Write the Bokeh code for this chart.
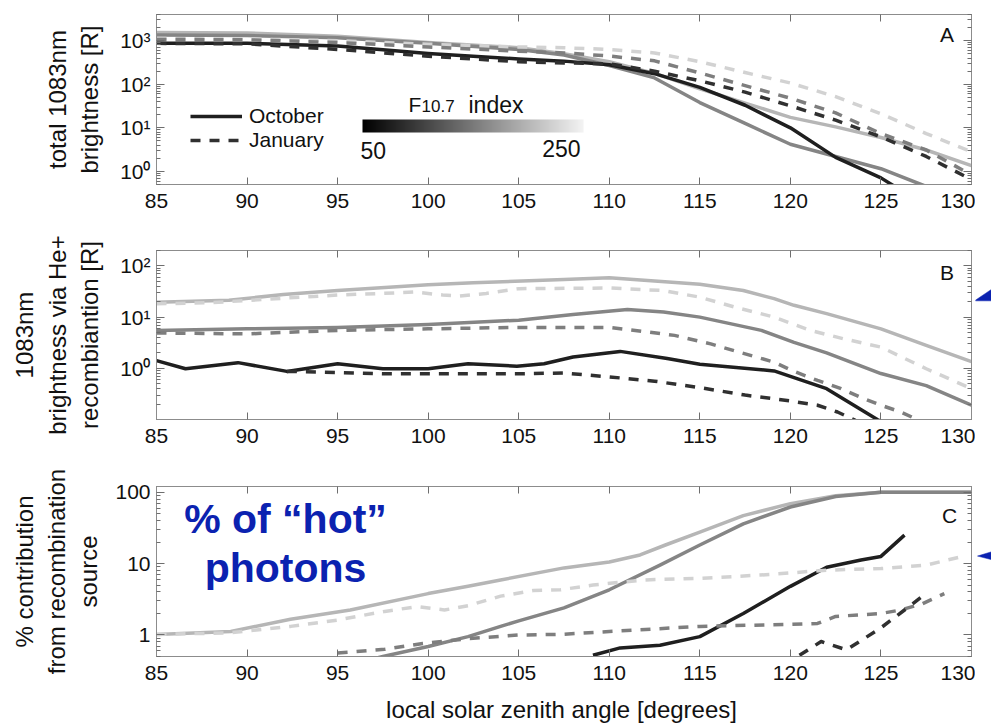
import math
from bokeh.plotting import figure
from bokeh.models import (Range1d, FixedTicker, LinearAxis, LogAxis, Label,
                          Legend, LegendItem, ColorBar, LinearColorMapper)
from bokeh.layouts import column, row
from bokeh.palettes import Greys256
from bokeh.embed import file_html
from bokeh.resources import INLINE

# ---------------- data ----------------
x_ticks = [85, 90, 95, 100, 105, 110, 115, 120, 125, 130]

# Panel A: total 1083nm brightness [R]
a_x = [85, 90, 95, 100, 105, 107.5, 110, 112.5, 115, 117.5, 120, 122.5, 125, 127.5, 130]
a_oct_f50 = [870, 870, 760, 510, 380, 340, 280, 175, 85, 33, 10, 2.1, 0.71, 0.16, 0.05]
a_oct_f150 = [1350, 1320, 1175, 870, 630, 470, 270, 140, 38, 12.6, 4.2, 2.2, 1.15, 0.45, 0.16]
a_oct_f250 = [1550, 1510, 1260, 910, 690, 500, 330, 178, 79, 37, 17.4, 10.5, 6.0, 3.1, 1.35]
a_jan_f50 = [870, 850, 630, 440, 330, 310, 295, 200, 120, 66, 32, 15, 6.2, 2.2, 0.65]
a_jan_f150 = [1070, 1050, 910, 720, 575, 525, 445, 345, 182, 93, 48, 22, 7.4, 3.1, 0.83]
a_jan_f250 = [1120, 1100, 1000, 830, 720, 690, 630, 525, 330, 186, 107, 52, 21, 7.4, 2.8]

# Panel B: 1083nm brightness via He+ recombination [R]
b_oct_f50_x = [85, 86.6, 89.5, 92.2, 95, 97.5, 100, 102.2, 104.9, 106.4, 108, 110.6, 113.2, 115, 119.1, 122, 124.8, 127.5, 130]
b_oct_f50 = [1.41, 0.98, 1.29, 0.87, 1.23, 0.98, 0.98, 1.23, 1.10, 1.23, 1.66, 2.14, 1.55, 1.20, 0.89, 0.40, 0.10, 0.03, 0.01]
b_jan_f50_x = [92.2, 95, 97.5, 100, 102.5, 105, 107.5, 110, 112.5, 115, 117.5, 120, 121.5, 122.6, 123.5, 126]
b_jan_f50 = [0.87, 0.83, 0.78, 0.78, 0.78, 0.78, 0.81, 0.68, 0.56, 0.42, 0.30, 0.23, 0.19, 0.14, 0.10, 0.03]
b_oct_f150_x = [85, 90, 95, 100, 105, 108, 111, 113, 115, 118.4, 120.2, 122, 125, 127.5, 130]
b_oct_f150 = [5.5, 5.9, 6.3, 7.2, 8.7, 11.2, 14.1, 12.6, 10.0, 5.5, 3.2, 2.0, 0.79, 0.46, 0.19]
b_jan_f150_x = [85, 90, 95, 100, 105, 110, 112, 113.6, 115.6, 116.9, 119.1, 120.2, 121.5, 122.8, 124, 125, 126.1, 127, 129]
b_jan_f150 = [4.9, 4.7, 5.5, 5.9, 6.3, 6.3, 5.2, 4.4, 3.0, 2.2, 1.32, 0.87, 0.58, 0.40, 0.26, 0.19, 0.14, 0.10, 0.05]
b_oct_f250_x = [85, 89, 92, 95, 100, 102.5, 107.5, 110, 115, 117.4, 119.1, 120.2, 122, 125, 127.5, 130]
b_oct_f250 = [19.5, 21.4, 27.5, 33, 43, 47, 54, 59, 44, 33, 23, 17, 11.7, 5.9, 2.8, 1.35]
b_jan_f250_x = [85, 88, 92, 95, 97.5, 99.2, 100.8, 101.7, 103.2, 105, 110, 113, 115, 116.9, 119.1, 121.1, 122.9, 125, 127.5, 130]
b_jan_f250 = [18.2, 19.1, 23.4, 27, 29, 31, 27, 25.7, 29, 36, 37, 33, 24.5, 15.8, 10.0, 5.5, 3.8, 2.6, 0.98, 0.40]

# Panel C: % contribution from recombination source
c_oct_f250_x = [85, 89.1, 92.4, 95.7, 100, 102.2, 104, 107.5, 110, 111.7, 113.1, 115, 117.4, 120, 122.5, 125, 130]
c_oct_f250 = [1.02, 1.12, 1.66, 2.24, 3.8, 4.8, 5.9, 8.7, 10.5, 13.2, 18.2, 27.5, 47, 69, 89, 100, 100]
c_oct_f150_x = [95, 97.5, 100, 102.2, 104, 105, 107.5, 110, 112.8, 115, 117.4, 120, 122.5, 125, 130]
c_oct_f150 = [0.35, 0.50, 0.69, 0.95, 1.32, 1.58, 2.4, 4.3, 9.5, 18.2, 36, 62, 87, 100, 100]
c_oct_f50_x = [109.1, 110.6, 112.8, 115, 117.4, 120, 122, 123.9, 125, 126.3]
c_oct_f50 = [0.52, 0.66, 0.72, 0.95, 2.0, 4.8, 8.9, 11.2, 12.6, 25]
c_jan_f250_x = [85, 89, 90.2, 92.4, 95, 97.6, 99.4, 100.9, 102.2, 104, 105.8, 107.3, 109.1, 111.9, 115, 118.3, 120, 122, 125, 127.5, 129.5]
c_jan_f250 = [1.02, 1.07, 1.15, 1.32, 1.62, 2.14, 2.5, 2.24, 2.57, 3.5, 4.2, 4.3, 5.0, 5.9, 6.2, 6.9, 7.4, 8.1, 8.5, 9.5, 12.6]
c_jan_f150_x = [95, 97.6, 99.7, 102.2, 105, 107.3, 110, 115, 120, 121.5, 122.5, 125, 126.1, 127.3, 128.5]
c_jan_f150 = [0.56, 0.63, 0.76, 0.89, 1.0, 1.02, 1.12, 1.32, 1.41, 1.45, 1.82, 2.0, 2.24, 2.75, 3.8]
c_jan_f50_x = [120.5, 121.7, 123.1, 125, 126.3, 127.3]
c_jan_f50 = [0.52, 0.81, 0.62, 1.26, 2.24, 3.5]

f107_range = [50, 250]

# ---------------- style ----------------
FONT = "Liberation Sans"
TXT = "#111111"
AX_COL = "#8c8c8c"
TICK_COL = "#6e6e6e"
BLUE = "#0b22b0"
COL = {
    ("oct", 50): "#1f1f1f", ("jan", 50): "#303030",
    ("oct", 150): "#858585", ("jan", 150): "#7e7e7e",
    ("oct", 250): "#b6b6b6", ("jan", 250): "#d2d2d2",
}
LW = 3.5
DASH = "10 9"

LEFT, RIGHT = 156, 4
FRAME_W = 815
W = LEFT + FRAME_W + RIGHT      # 975
SIDE_W = 991 - W                # 16 px strip on the right for the arrow heads
X0, X1 = 85, 130


def minor_log(lo, hi):
    out = []
    for k in range(-3, 5):
        for m in range(2, 10):
            v = m * 10 ** k
            if lo <= v <= hi:
                out.append(v)
    return out


def make_panel(height, top, bottom, abs_top, ylo, yhi, yticks, overrides, ylabel, ystand):
    p = figure(width=W, height=height, x_range=Range1d(X0, X1), y_range=Range1d(ylo, yhi),
               y_axis_type="log", output_backend="svg", toolbar_location=None,
               min_border_left=LEFT, min_border_right=RIGHT,
               min_border_top=top, min_border_bottom=bottom)
    p.background_fill_color = "white"
    p.border_fill_color = "white"
    p.outline_line_color = AX_COL
    p.grid.visible = False
    xt = FixedTicker(ticks=x_ticks, minor_ticks=[])
    yt = FixedTicker(ticks=yticks, minor_ticks=minor_log(ylo, yhi))
    p.add_layout(LinearAxis(), "above")
    p.add_layout(LogAxis(), "right")
    for ax in p.xaxis:
        ax.ticker = xt
    for ax in p.yaxis:
        ax.ticker = yt
    for ax in list(p.xaxis) + list(p.yaxis):
        ax.axis_line_color = AX_COL
        ax.major_tick_line_color = TICK_COL
        ax.minor_tick_line_color = TICK_COL
        ax.major_tick_out = 0
        ax.minor_tick_out = 0
        ax.minor_tick_in = 4
        ax.major_label_text_font = FONT
        ax.major_label_text_font_size = "21px"
        ax.major_label_text_color = TXT
    for ax in p.xaxis:
        ax.major_tick_in = 7
    for ax in p.yaxis:
        ax.major_tick_in = 8
    p.below[0].major_label_standoff = 9
    left = p.left[0]
    left.major_label_standoff = 6
    left.major_label_overrides = overrides
    left.axis_label = ylabel
    left.axis_label_text_font = FONT
    left.axis_label_text_font_size = "24px"
    left.axis_label_text_font_style = "normal"
    left.axis_label_text_color = TXT
    left.axis_label_standoff = ystand
    for ax in (p.above[0], p.right[0]):
        ax.major_label_text_font_size = "1px"
        ax.major_label_text_alpha = 0
        ax.major_label_standoff = 0
    geo = dict(frame_top=abs_top + top, frame_h=height - top - bottom,
               l0=math.log10(ylo), l1=math.log10(yhi))
    return p, geo


def to_data(geo, X, Y):
    xd = X0 + (X - LEFT) / FRAME_W * (X1 - X0)
    f = (Y - geo["frame_top"]) / geo["frame_h"]
    yd = 10 ** (geo["l1"] - f * (geo["l1"] - geo["l0"]))
    return xd, yd


def txt(p, geo, X, Y, text, size, align="left", color=TXT, style="normal"):
    # (X, Y) = page pixel of the text's left/centre edge and vertical middle
    xd, yd = to_data(geo, X, Y)
    p.add_layout(Label(x=xd, y=yd, text=text, text_font=FONT, text_font_size=f"{size}px",
                       text_align=align, text_baseline="middle",
                       text_color=color, text_font_style=style))


def add_line(p, x, y, month, f):
    return p.line(x, y, line_color=COL[(month, f)], line_width=LW,
                  line_dash=(DASH if month == "jan" else "solid"),
                  line_join="round", line_cap="butt")


def strip(width, height, x_start, abs_top):
    # plain area in page-pixel coordinates (no axes, no title) for decorations outside the panels
    s = figure(width=width, height=height, title=None,
               x_range=Range1d(x_start, x_start + width),
               y_range=Range1d(abs_top + height, abs_top), output_backend="svg",
               toolbar_location=None, x_axis_location=None, y_axis_location=None,
               min_border_left=0, min_border_right=0, min_border_top=0, min_border_bottom=0)
    s.grid.visible = False
    s.outline_line_color = None
    s.background_fill_color = "white"
    s.border_fill_color = "white"
    return s


def side_strip(height, abs_top, pts):
    s = strip(SIDE_W, height, W, abs_top)
    if pts:
        s.patch([q[0] for q in pts], [q[1] for q in pts], fill_color=BLUE, line_color=BLUE,
                line_width=0.5)
    return s


# ---------------- panel A ----------------
pA, gA = make_panel(220, 14, 36, 0, 0.5, 4000, [1, 10, 100, 1000],
                    {1: "10⁰", 10: "10¹", 100: "10²", 1000: "10³"},
                    "total 1083nm\nbrightness [R]", 14)
add_line(pA, a_x, a_oct_f250, "oct", 250)
add_line(pA, a_x, a_oct_f150, "oct", 150)
rA_oct = add_line(pA, a_x, a_oct_f50, "oct", 50)
add_line(pA, a_x, a_jan_f250, "jan", 250)
add_line(pA, a_x, a_jan_f150, "jan", 150)
rA_jan = add_line(pA, a_x, a_jan_f50, "jan", 50)

legend = Legend(items=[LegendItem(label="October", renderers=[rA_oct]),
                       LegendItem(label="January", renderers=[rA_jan])],
                location=(34, 32), padding=0, margin=0, spacing=0,
                glyph_width=52, glyph_height=22, label_height=22, label_standoff=7,
                label_text_font=FONT, label_text_font_size="21px", label_text_color=TXT,
                border_line_color=None, background_fill_alpha=0)
pA.add_layout(legend)

cbar = ColorBar(color_mapper=LinearColorMapper(palette=Greys256[:244], low=f107_range[0], high=f107_range[1]),
                orientation="horizontal", location=(206, 52), width=221, height=13,
                padding=0, margin=0, ticker=FixedTicker(ticks=[]),
                major_label_text_font_size="1px", label_standoff=0,
                major_tick_line_color=None, minor_tick_line_color=None,
                bar_line_color=None, background_fill_alpha=0, border_line_color=None)
pA.add_layout(cbar)
txt(pA, gA, 408, 104, "F", 21)
txt(pA, gA, 421, 105, "10.7", 17)
txt(pA, gA, 468, 104, "index", 23)
txt(pA, gA, 360, 150, str(f107_range[0]), 23)
txt(pA, gA, 580, 148, str(f107_range[1]), 23, align="right")
txt(pA, gA, 946.5, 34, "A", 21, align="center")

# ---------------- panel B ----------------
pB, gB = make_panel(235, 30, 36, 220, 0.1, 200, [1, 10, 100],
                    {1: "10⁰", 10: "10¹", 100: "10²"},
                    "1083nm\nbrightness via He+\nrecombiantion [R]", 14)
add_line(pB, b_oct_f250_x, b_oct_f250, "oct", 250)
add_line(pB, b_oct_f150_x, b_oct_f150, "oct", 150)
add_line(pB, b_oct_f50_x, b_oct_f50, "oct", 50)
add_line(pB, b_jan_f250_x, b_jan_f250, "jan", 250)
add_line(pB, b_jan_f150_x, b_jan_f150, "jan", 150)
add_line(pB, b_jan_f50_x, b_jan_f50, "jan", 50)
txt(pB, gB, 946.5, 271.5, "B", 21, align="center")

# ---------------- panel C ----------------
pC, gC = make_panel(237, 31, 36, 455, 0.5, 120, [1, 10, 100],
                    {1: "1", 10: "10", 100: "100"},
                    "% contribution\nfrom recombination\nsource", 10)
add_line(pC, c_oct_f250_x, c_oct_f250, "oct", 250)
add_line(pC, c_oct_f150_x, c_oct_f150, "oct", 150)
add_line(pC, c_oct_f50_x, c_oct_f50, "oct", 50)
add_line(pC, c_jan_f250_x, c_jan_f250, "jan", 250)
add_line(pC, c_jan_f150_x, c_jan_f150, "jan", 150)
add_line(pC, c_jan_f50_x, c_jan_f50, "jan", 50)
txt(pC, gC, 949, 514.5, "C", 21, align="center")
txt(pC, gC, 285, 518, "% of “hot”", 41, align="center", color=BLUE, style="bold")
txt(pC, gC, 285, 567, "photons", 41, align="center", color=BLUE, style="bold")

sA = side_strip(220, 0, None)
sB = side_strip(235, 220, [(974, 290), (991, 274), (991, 290)])
sC = side_strip(237, 455, [(977, 552), (991, 546), (991, 557)])

# x-axis title strip under panel C
xlab = strip(991, 31, 0, 692)
xlab.add_layout(Label(x=561, y=709, text="local solar zenith angle [degrees]", text_font=FONT,
                      text_font_size="24px", text_align="center", text_baseline="middle",
                      text_color=TXT))

layout = column(row(pA, sA, spacing=0), row(pB, sB, spacing=0), row(pC, sC, spacing=0),
                xlab, spacing=0)
open("out.html", "w").write(file_html(layout, INLINE))
